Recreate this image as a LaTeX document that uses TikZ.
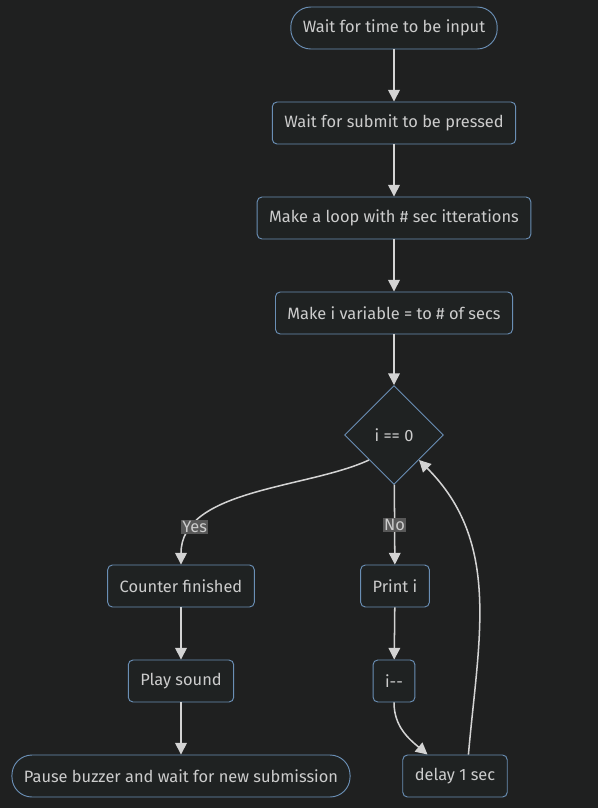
\documentclass[tikz,border=0pt]{standalone}
\usepackage{fontspec}
\setmainfont{Fira Sans}
\usepackage{xcolor}
\usetikzlibrary{shapes.geometric,arrows.meta,positioning,calc}

\definecolor{bgdark}{HTML}{1F2020}
\definecolor{nodefill}{HTML}{1F2222}
\definecolor{nodeline}{HTML}{6A8FB5}
\definecolor{textgrey}{HTML}{CCCCCC}
\definecolor{edgegrey}{HTML}{D3D3D3}
\definecolor{labelfill}{HTML}{585858}

\begin{document}
\begin{tikzpicture}[
    x=0.03cm, y=-0.03cm,
    font=\fontsize{14}{17}\selectfont,
    box/.style={rectangle, draw=nodeline, fill=nodefill, text=textgrey, rounded corners=4pt, minimum height=1.26cm, inner xsep=0.36cm, line width=0.8pt},
    stadium/.style={box, rounded corners=0.6cm, inner xsep=0.36cm},
    decision/.style={diamond, draw=nodeline, fill=nodefill, text=textgrey, minimum width=2.97cm, minimum height=2.97cm, inner sep=0pt, line width=0.8pt},
    arrow/.style={-{Triangle[length=10pt,width=10pt]}, draw=edgegrey, line width=1.3pt},
    edgelabel/.style={fill=labelfill, text=textgrey, inner sep=1pt}
]

% background
\fill[bgdark] (0,0) rectangle (598,808);

% Main column
\node[stadium] (wait) at (394,28) {Wait for time to be input};
\node[box] (submit) at (394,123) {Wait for submit to be pressed};
\node[box] (loop) at (394,218) {Make a loop with \# sec itterations};
\node[box] (setvar) at (394,313) {Make i variable = to \# of secs};
\node[decision] (check) at (394,435) {i == 0};

% Yes branch
\node[box] (finished) at (181,586) {Counter finished};
\node[box] (sound) at (181,681) {Play sound};
\node[stadium] (pause) at (181,776) {Pause buzzer and wait for new submission};

% No branch
\node[box] (print) at (395,586) {Print i};
\node[box] (decr) at (394,681) {i{-}{-}};
\node[box] (delay) at (455,776) {delay 1 sec};

% Arrows
\draw[arrow] (wait) -- (submit);
\draw[arrow] (submit) -- (loop);
\draw[arrow] (loop) -- (setvar);
\draw[arrow] (setvar) -- (check);

\draw[arrow] (check.south west) to[out=205,in=90,out looseness=0.8,in looseness=0.9] node[edgelabel, pos=0.8] {Yes} (finished.north);
\draw[arrow] (check) -- node[edgelabel] {No} (print);

\draw[arrow] (finished) -- (sound);
\draw[arrow] (sound) -- (pause);

\draw[arrow] (print) -- (decr);
\draw[arrow] (decr.south) to[out=-90,in=140] (delay.142);
\draw[arrow] (delay.58) to[out=85,in=-45] (check.south east);

\end{tikzpicture}
\end{document}
